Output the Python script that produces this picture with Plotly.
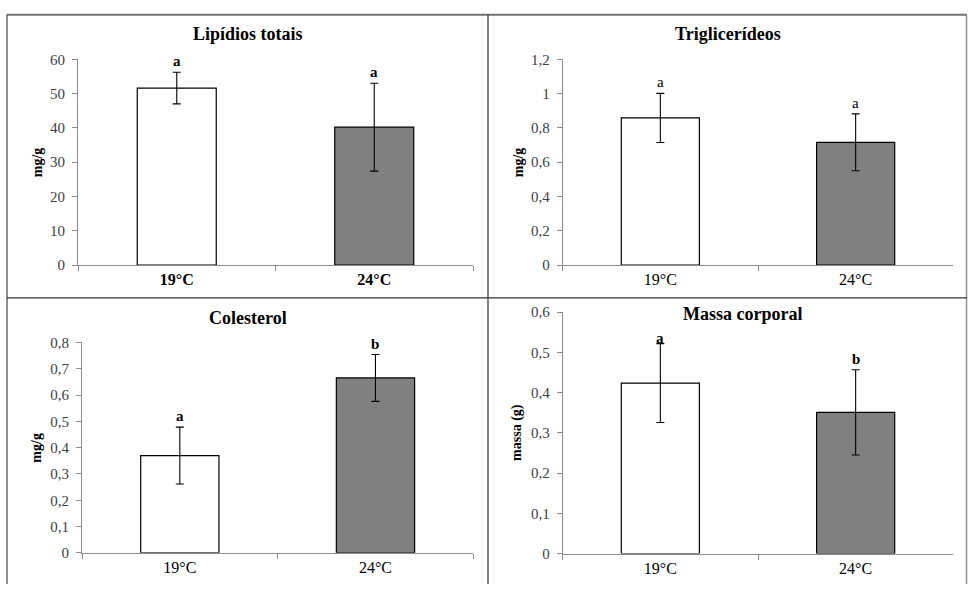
import plotly.graph_objects as go

W, H = 968, 592

categories = ["19°C", "24°C"]

lipidios_vals = [51.6, 40.2]
lipidios_err = [4.6, 12.8]
lipidios_letters = ["a", "a"]
lipidios_ticks = [0, 10, 20, 30, 40, 50, 60]
lipidios_ticktext = ["0", "10", "20", "30", "40", "50", "60"]

trig_vals = [0.858, 0.716]
trig_err = [0.143, 0.166]
trig_letters = ["a", "a"]
trig_ticks = [0, 0.2, 0.4, 0.6, 0.8, 1.0, 1.2]
trig_ticktext = ["0", "0,2", "0,4", "0,6", "0,8", "1", "1,2"]

col_vals = [0.370, 0.665]
col_err = [0.108, 0.089]
col_letters = ["a", "b"]
col_ticks = [0, 0.1, 0.2, 0.3, 0.4, 0.5, 0.6, 0.7, 0.8]
col_ticktext = ["0", "0,1", "0,2", "0,3", "0,4", "0,5", "0,6", "0,7", "0,8"]

massa_vals = [0.424, 0.351]
massa_err = [0.098, 0.106]
massa_letters = ["a", "b"]
massa_ticks = [0, 0.1, 0.2, 0.3, 0.4, 0.5, 0.6]
massa_ticktext = ["0", "0,1", "0,2", "0,3", "0,4", "0,5", "0,6"]

titles = ["Lipídios totais", "Triglicerídeos", "Colesterol", "Massa corporal"]
ytitles = ["mg/g", "mg/g", "mg/g", "massa (g)"]

FONT = "Liberation Serif"
bar_colors = ["#ffffff", "#808080"]

def px_x(p):
    return p / W

def px_y(p):
    return 1 - p / H

# pixel boxes: (x0, x1, ytop, ybottom)
boxes = [
    (78, 473, 52.7, 264.3),
    (562.7, 953.3, 52.7, 264.3),
    (82, 473.3, 343.7, 560.0),
    (562.7, 953.3, 312.7, 560.7),
]
panels = [
    (lipidios_vals, lipidios_err, lipidios_letters, lipidios_ticks, lipidios_ticktext, [0, 60], True, True),
    (trig_vals, trig_err, trig_letters, trig_ticks, trig_ticktext, [0, 1.2], False, False),
    (col_vals, col_err, col_letters, col_ticks, col_ticktext, [0, 0.8], False, True),
    (massa_vals, massa_err, massa_letters, massa_ticks, massa_ticktext, [0, 0.6], False, True),
]
title_pos = [(247.5, 27), (727.5, 27), (248, 318.5), (742, 315)]
ytitle_x = [37, 518, 37, 517]
letter_shift = [[1, 1], [1, 1], [1, 1], [-4, 1]]

fig = go.Figure()
layout = {}
annotations = []
for i, (vals, errs, letters, ticks, ticktext, yr, bold_x, bold_letters) in enumerate(panels):
    n = "" if i == 0 else str(i + 1)
    xa, ya = "x" + n, "y" + n
    x0, x1, yt, yb = boxes[i]
    fig.add_trace(go.Bar(
        x=categories, y=vals, xaxis=xa, yaxis=ya, width=0.4,
        marker=dict(color=bar_colors, line=dict(color="#000000", width=1.2)),
        error_y=dict(type="data", array=errs, visible=True, color="#000000", thickness=1.1, width=4),
        showlegend=False, hoverinfo="skip",
    ))
    layout["xaxis" + n] = dict(
        domain=[px_x(x0), px_x(x1)], anchor=ya, type="category", range=[-0.5, 1.5],
        showline=True, linecolor="#8c8c8c", linewidth=1, ticks="outside", tickson="boundaries",
        ticklen=5, tickcolor="#8c8c8c", showgrid=False, zeroline=False,
        tickfont=dict(family=FONT, size=16, color="#000000"),
        tickprefix="<b>" if bold_x else "", ticksuffix="</b>" if bold_x else "",
        fixedrange=True,
    )
    layout["yaxis" + n] = dict(
        domain=[px_y(yb), px_y(yt)], anchor=xa, range=yr,
        tickvals=ticks, ticktext=ticktext, showline=True, linecolor="#8c8c8c", linewidth=1,
        ticks="outside", ticklen=5, tickcolor="#8c8c8c", showgrid=False, zeroline=False,
        tickfont=dict(family=FONT, size=15, color="#404040"), ticklabelstandoff=4,
        fixedrange=True,
    )
    for j, (cat, v, e, L) in enumerate(zip(categories, vals, errs, letters)):
        annotations.append(dict(
            x=cat, y=v + e, xref=xa, yref=ya, text=("<b>%s</b>" % L) if bold_letters else L,
            showarrow=False, yanchor="bottom", yshift=letter_shift[i][j],
            font=dict(family=FONT, size=15, color="#000000"),
        ))
    tx, ty = title_pos[i]
    annotations.append(dict(
        x=px_x(tx), y=px_y(ty), xref="paper", yref="paper", text="<b>%s</b>" % titles[i],
        showarrow=False, xanchor="center", yanchor="middle",
        font=dict(family=FONT, size=18, color="#000000"),
    ))
    annotations.append(dict(
        x=px_x(ytitle_x[i]), y=px_y((yt + yb) / 2), xref="paper", yref="paper",
        text="<b>%s</b>" % ytitles[i], textangle=-90, showarrow=False,
        xanchor="center", yanchor="middle",
        font=dict(family=FONT, size=14, color="#000000"),
    ))

shapes = [
    dict(type="line", xref="paper", yref="paper", x0=px_x(7), x1=px_x(967), y0=px_y(7), y1=px_y(7),
         line=dict(color="#707070", width=2)),
    dict(type="line", xref="paper", yref="paper", x0=px_x(7), x1=px_x(7), y0=px_y(7), y1=0,
         line=dict(color="#202020", width=1)),
    dict(type="line", xref="paper", yref="paper", x0=px_x(966.5), x1=px_x(966.5), y0=px_y(7), y1=0,
         line=dict(color="#909090", width=1.5)),
    dict(type="line", xref="paper", yref="paper", x0=px_x(488), x1=px_x(488), y0=px_y(7), y1=0,
         line=dict(color="#303030", width=1.2)),
    dict(type="line", xref="paper", yref="paper", x0=px_x(7), x1=px_x(967), y0=px_y(298), y1=px_y(298),
         line=dict(color="#303030", width=1.2)),
]

fig.update_layout(
    autosize=True, margin=dict(l=0, r=0, t=0, b=0),
    paper_bgcolor="#ffffff", plot_bgcolor="#ffffff",
    annotations=annotations, shapes=shapes, bargap=0.6,
    **layout,
)

post = (
    "document.documentElement.style.margin='0';"
    "document.documentElement.style.padding='0';"
    "document.documentElement.style.overflow='hidden';"
    "document.body.style.margin='0';"
    "document.body.style.padding='0';"
    "document.body.style.overflow='hidden';"
    "var gd=document.getElementById('{plot_id}');"
    "gd.style.position='fixed';gd.style.top='0px';gd.style.left='0px';"
)

fig.write_html(
    "out.html",
    config={"displayModeBar": False, "responsive": True},
    default_width="100vw", default_height="100vh",
    post_script=post,
)
